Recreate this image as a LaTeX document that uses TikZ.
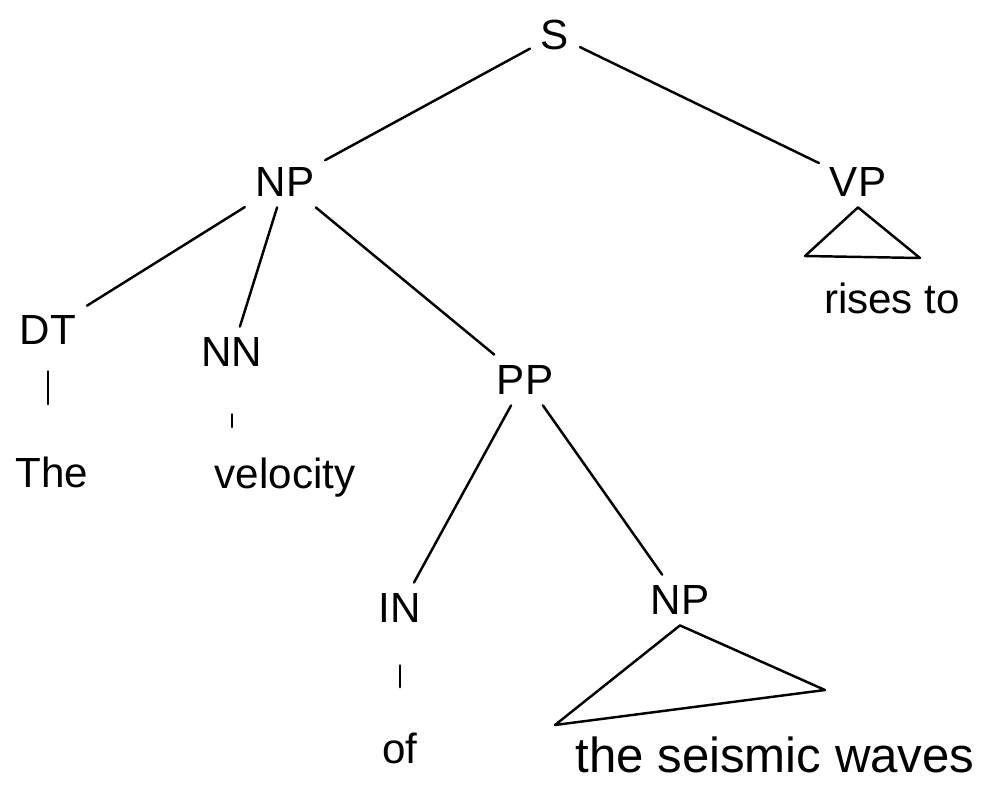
\documentclass[tikz,border=0pt]{standalone}
\usepackage{fontspec}
\setmainfont{Liberation Sans}
\tikzset{
  cat/.style={inner sep=6pt, font=\fontsize{24}{28}\selectfont},
  word/.style={inner sep=4pt, font=\fontsize{24}{28}\selectfont},
  branch/.style={line width=1.4pt, line cap=round},
}

\begin{document}
\begin{tikzpicture}[x=0.02cm, y=-0.02cm]
    \useasboundingbox (0,0) rectangle (988,785);
    \node[cat] (s) at (555,35) {S};
    \node[cat] (np) at (285,182) {NP};
    \node[cat] (vp) at (858,182) {VP};
    \node[cat] (dt) at (48,330) {DT};
    \node[cat] (nn) at (232,352) {NN};
    \node[cat] (pp) at (525,380) {PP};
    \node[word] (the) at (52,472) {The};
    \node[word] (vel) at (285,478) {velocity};
    \node[cat] (in) at (400,608) {IN};
    \node[cat] (np2) at (680,600) {NP};
    \node[word] (of) at (400,748) {of};
    \node[word, font=\fontsize{28}{32}\selectfont] (seis) at (775,755) {the seismic waves};
    \node[word] (rises) at (892,298) {rises to};
    \coordinate (vpl) at (805,256);
    \coordinate (vpr) at (920,258);
    \coordinate (npl) at (555,725);
    \coordinate (npr) at (825,690);
    \draw[branch] (s) -- (np);
    \draw[branch] (s) -- (vp);
    \draw[branch] (np) -- (dt);
    \draw[branch] (np) -- (nn);
    \draw[branch] (np) -- (pp);
    % short ticks down to the words
    \draw[branch, shorten <=0.32cm, shorten >=0.9cm] (dt.south) -- (dt.south |- the.north);
    \draw[branch, shorten <=0.74cm, shorten >=0.48cm] (nn.south) -- (nn.south |- vel.north);
    \draw[branch] (pp) -- (in);
    \draw[branch] (pp) -- (np2);
    \draw[branch, shorten <=0.64cm, shorten >=0.76cm] (in.south) -- (in.south |- of.north);
    \draw[branch, line join=round] (vp.south) -- (vpl) -- (vpr) -- cycle;
    \draw[branch, line join=round] (np2.south) -- (npl) -- (npr) -- cycle;
  \end{tikzpicture}
\end{document}
